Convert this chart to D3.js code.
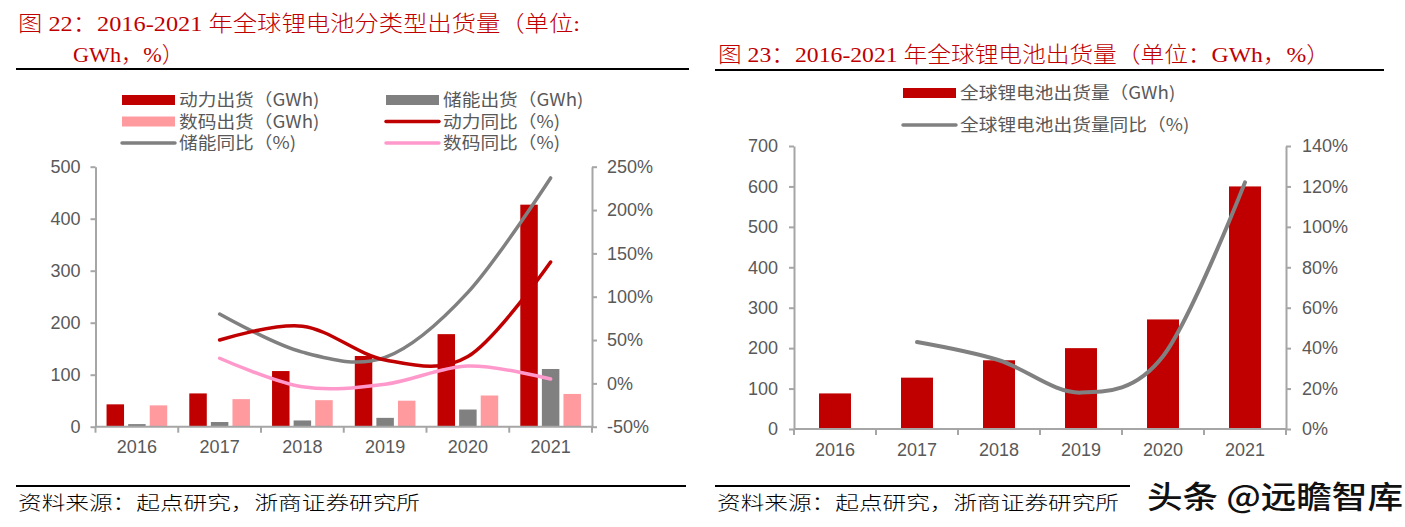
<!DOCTYPE html>
<html><head><meta charset="utf-8">
<script src="https://cdn.jsdelivr.net/npm/d3@7"></script>
<style>
html,body{margin:0;padding:0;background:#fff;}
svg{display:block;}
</style></head>
<body>
<svg id="c" width="1405" height="527"></svg>
<script>
// ---------- data ----------
const years = ["2016","2017","2018","2019","2020","2021"];
const powerShip   = [43, 64, 107, 136, 178, 427];
const storageShip = [5, 9, 12, 17, 33, 111];
const digitalShip = [41, 53, 51, 50, 60, 63];
const powerYoY   = [null, 50, 66, 27, 31, 140];
const storageYoY = [null, 80, 36, 30, 105, 237];
const digitalYoY = [null, 29, -4, -1, 20, 5];
const leftTicksL  = [0, 100, 200, 300, 400, 500];
const leftTicksR  = [-50, 0, 50, 100, 150, 200, 250];

const totalShip = [88, 127, 170, 200, 271, 600];
const totalYoY  = [null, 43, 34, 18, 36, 122];
const rightTicksL = [0, 100, 200, 300, 400, 500, 600, 700];
const rightTicksR = [0, 20, 40, 60, 80, 100, 120, 140];

const title1a = "图 22：2016-2021 年全球锂电池分类型出货量（单位:";
const title1b = "GWh，%）";
const title2  = "图 23：2016-2021 年全球锂电池出货量（单位：GWh，%）";
const sourceText = "资料来源：起点研究，浙商证券研究所";
const watermark = "头条 @远瞻智库";

const legend1 = [
  {label:"动力出货（GWh)", type:"bar",  color:"#c00000"},
  {label:"储能出货（GWh)", type:"bar",  color:"#808080"},
  {label:"数码出货（GWh)", type:"bar",  color:"#ff9a9f"},
  {label:"动力同比（%)",   type:"line", color:"#c00000"},
  {label:"储能同比（%)",   type:"line", color:"#808080"},
  {label:"数码同比（%)",   type:"line", color:"#ff99cc"}
];
const legend2 = [
  {label:"全球锂电池出货量（GWh)", type:"bar", color:"#c00000"},
  {label:"全球锂电池出货量同比（%)", type:"line", color:"#808080"}
];

// ---------- styles ----------
const AX = "#a6a6a6", TXT = "#595959";
const serif = "'Liberation Serif','Noto Sans CJK SC',serif";
const sans = "'Liberation Sans','Noto Sans CJK SC',Arial,sans-serif";
const cjk = "'Noto Sans CJK SC','Liberation Sans',sans-serif";
const LEGEND_STRETCH = 1.1;

const svg = d3.select("#c");

// ---------- headers / footers ----------
function text(x, y, s, opts) {
  const t = svg.append("text").attr("x", x).attr("y", y).text(s)
    .attr("font-family", opts.font).attr("font-size", opts.size).attr("fill", opts.color);
  if (opts.weight) t.attr("font-weight", opts.weight);
  if (opts.len) t.attr("textLength", opts.len).attr("lengthAdjust", "spacingAndGlyphs");
  return t;
}
text(18, 31, title1a, {font:serif, size:22, color:"#c00000", len:562, weight:300});
text(73, 62, title1b, {font:serif, size:22, color:"#c00000", len:111, weight:300});
text(718, 62, title2, {font:serif, size:22, color:"#c00000", len:612, weight:300});
svg.append("line").attr("x1",16).attr("x2",689).attr("y1",69).attr("y2",69).attr("stroke","#000").attr("stroke-width",2.2);
svg.append("line").attr("x1",715).attr("x2",1384).attr("y1",70).attr("y2",70).attr("stroke","#000").attr("stroke-width",2.2);
svg.append("line").attr("x1",16).attr("x2",686).attr("y1",486).attr("y2",486).attr("stroke","#000").attr("stroke-width",2.2);
svg.append("line").attr("x1",715).attr("x2",1384).attr("y1",486).attr("y2",486).attr("stroke","#000").attr("stroke-width",2.2);
text(18, 510, sourceText, {font:serif, size:19, color:"#000", len:402, weight:300});
text(717, 510, sourceText, {font:serif, size:19, color:"#000", len:402, weight:300});

// ---------- helpers ----------
function legend(items, cols, x0s, y0, dy) {
  items.forEach((it, i) => {
    const c = i % cols, r = Math.floor(i / cols);
    const x = x0s[c], y = y0 + r * dy;
    if (it.type === "bar") {
      svg.append("rect").attr("x", x).attr("y", y - 5).attr("width", 53).attr("height", 10).attr("fill", it.color);
    } else {
      svg.append("line").attr("x1", x).attr("x2", x + 53).attr("y1", y).attr("y2", y)
        .attr("stroke", it.color).attr("stroke-width", 3.5).attr("stroke-linecap","round");
    }
    const t = svg.append("text").attr("x", x + 57).attr("y", y).attr("dy", "0.36em").text(it.label)
      .attr("font-family", cjk).attr("font-size", 17).attr("fill", TXT);
    const w = t.node().getComputedTextLength();
    t.attr("textLength", w * LEGEND_STRETCH).attr("lengthAdjust", "spacingAndGlyphs");
  });
}

function styleAxis(g) {
  g.select(".domain").attr("stroke", AX).attr("stroke-width", 2);
  g.selectAll(".tick line").attr("stroke", AX).attr("stroke-width", 2);
  g.selectAll(".tick text").attr("fill", TXT).attr("font-family", sans).attr("font-size", 18);
}

function catAxis(x, yPos, left, right) {
  const g = svg.append("g").attr("transform", `translate(0,${yPos})`)
    .call(d3.axisBottom(x).tickSize(0).tickPadding(14));
  styleAxis(g);
  g.select(".domain").remove();
  svg.append("line").attr("x1", left).attr("x2", right).attr("y1", yPos).attr("y2", yPos)
    .attr("stroke", AX).attr("stroke-width", 2);
  const bounds = x.domain().map(d => x(d) - x.step() * x.paddingOuter()).concat([right]);
  svg.selectAll(null).data(bounds).enter().append("line")
    .attr("x1", d => d).attr("x2", d => d).attr("y1", yPos).attr("y2", yPos + 6)
    .attr("stroke", AX).attr("stroke-width", 2);
}

const smooth = d3.curveCardinal.tension(0);

// ================= Chart 1 =================
(function(){
  const L = 95.5, R = 592, T = 166.7, B = 426.7;
  const x0 = d3.scaleBand().domain(years).range([L, R]).paddingInner(0.267).paddingOuter(0.1335);
  const series = ["power","storage","digital"];
  const x1 = d3.scaleBand().domain(series).range([0, x0.bandwidth()]).paddingInner(0.19);
  const yL = d3.scaleLinear().domain([0, 500]).range([B, T]);
  const yR = d3.scaleLinear().domain([-50, 250]).range([B, T]);

  legend(legend1, 2, [122, 386], 100, 21.5);

  const gl = svg.append("g").attr("transform", `translate(${L},0)`)
    .call(d3.axisLeft(yL).tickValues(leftTicksL).tickSize(5).tickPadding(10).tickSizeOuter(0));
  styleAxis(gl);
  const gr = svg.append("g").attr("transform", `translate(${R},0)`)
    .call(d3.axisRight(yR).tickValues(leftTicksR).tickSize(5).tickPadding(10).tickFormat(d => d + "%").tickSizeOuter(0));
  styleAxis(gr);

  const sData = {power: powerShip, storage: storageShip, digital: digitalShip};
  const sColor = {power:"#c00000", storage:"#808080", digital:"#ff9a9f"};
  series.forEach(s => {
    svg.selectAll(null).data(years).enter().append("rect")
      .attr("x", d => x0(d) + x1(s))
      .attr("width", x1.bandwidth())
      .attr("y", (d, i) => yL(sData[s][i]))
      .attr("height", (d, i) => B - yL(sData[s][i]))
      .attr("fill", sColor[s]);
  });

  catAxis(x0, B, L, R);

  const lines = [
    {v: storageYoY, c:"#808080"},
    {v: powerYoY, c:"#c00000"},
    {v: digitalYoY, c:"#ff99cc"}
  ];
  lines.forEach(ln => {
    const pts = years.map((d, i) => [x0(d) + x0.bandwidth()/2, ln.v[i]]).filter(p => p[1] !== null);
    svg.append("path").attr("d", d3.line().x(p => p[0]).y(p => yR(p[1])).curve(smooth)(pts))
      .attr("fill", "none").attr("stroke", ln.c).attr("stroke-width", 3.5).attr("stroke-linecap","round");
  });
})();

// ================= Chart 2 =================
(function(){
  const L = 794, R = 1286, T = 146, B = 429;
  const x = d3.scaleBand().domain(years).range([L, R]).paddingInner(0.61).paddingOuter(0.305);
  const yL = d3.scaleLinear().domain([0, 700]).range([B, T]);
  const yR = d3.scaleLinear().domain([0, 140]).range([B, T]);

  legend(legend2, 1, [903], 93, 32);

  const gl = svg.append("g").attr("transform", `translate(${L},0)`)
    .call(d3.axisLeft(yL).tickValues(rightTicksL).tickSize(5).tickPadding(11).tickSizeOuter(0));
  styleAxis(gl);
  const gr = svg.append("g").attr("transform", `translate(${R},0)`)
    .call(d3.axisRight(yR).tickValues(rightTicksR).tickSize(5).tickPadding(11).tickFormat(d => d + "%").tickSizeOuter(0));
  styleAxis(gr);

  svg.selectAll(null).data(years).enter().append("rect")
    .attr("x", d => x(d)).attr("width", x.bandwidth())
    .attr("y", (d, i) => yL(totalShip[i]))
    .attr("height", (d, i) => B - yL(totalShip[i]))
    .attr("fill", "#c00000");

  catAxis(x, B, L, R);

  const pts = years.map((d, i) => [x(d) + x.bandwidth()/2, totalYoY[i]]).filter(p => p[1] !== null);
  svg.append("path").attr("d", d3.line().x(p => p[0]).y(p => yR(p[1])).curve(smooth)(pts))
    .attr("fill", "none").attr("stroke", "#808080").attr("stroke-width", 4).attr("stroke-linecap","round");
})();

// ---------- watermark ----------
svg.append("rect").attr("x", 1130).attr("y", 474).attr("width", 275).attr("height", 44).attr("fill", "#fff");
text(1147, 508, watermark, {font:cjk, size:31, color:"#111", len:256, weight:500});
</script>
</body></html>
